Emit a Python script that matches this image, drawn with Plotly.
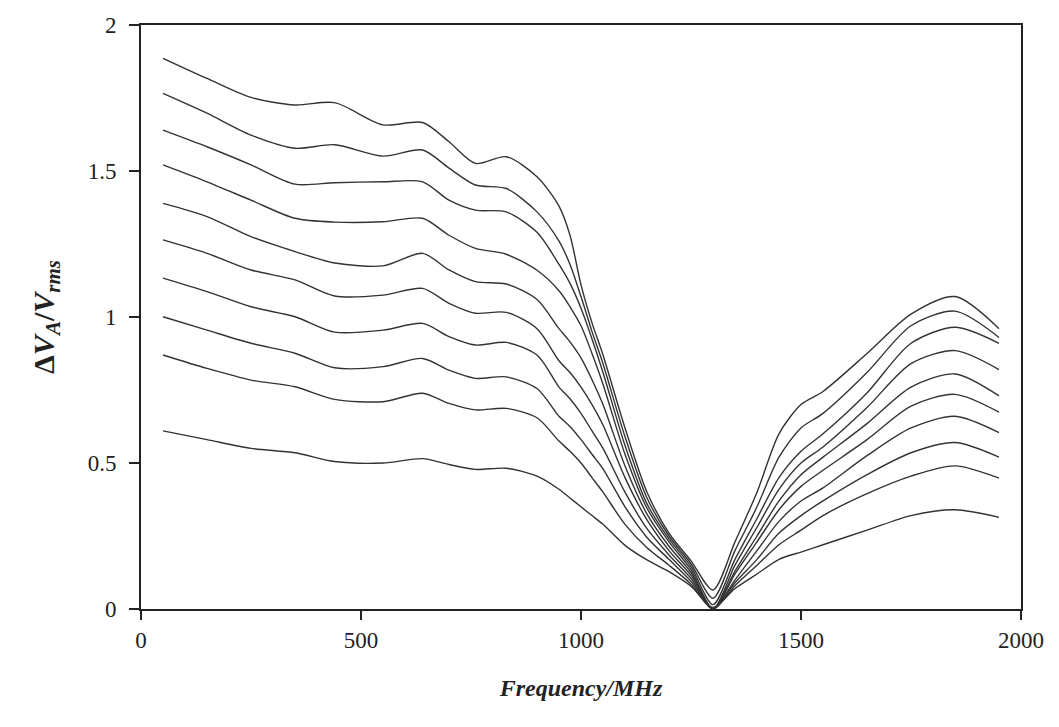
import plotly.graph_objects as go

# Frequency sample points (MHz)
freq = [50, 150, 250, 350, 440, 550, 640, 700, 760, 830, 900, 950, 975,
        1000, 1025, 1050, 1100, 1150, 1200, 1250, 1300, 1350, 1400, 1450, 1500,
        1550, 1650, 1750, 1850, 1950]

# Ten curves of dV_A / V_rms (top to bottom)
c1 = [1.886, 1.817, 1.752, 1.726, 1.734, 1.658, 1.666, 1.600, 1.526, 1.549, 1.480, 1.380, 1.280,
      1.110, 0.980, 0.870, 0.620, 0.400, 0.260, 0.165, 0.065, 0.230, 0.400, 0.600, 0.700,
      0.745, 0.875, 1.010, 1.070, 0.960]
c2 = [1.766, 1.698, 1.623, 1.578, 1.590, 1.551, 1.572, 1.510, 1.452, 1.440, 1.360, 1.260, 1.180,
      1.070, 0.950, 0.840, 0.590, 0.380, 0.250, 0.155, 0.037, 0.200, 0.350, 0.520, 0.620,
      0.670, 0.810, 0.970, 1.020, 0.930]
c3 = [1.640, 1.583, 1.521, 1.455, 1.460, 1.463, 1.463, 1.400, 1.366, 1.360, 1.290, 1.180, 1.115,
      1.030, 0.925, 0.810, 0.560, 0.360, 0.240, 0.145, 0.015, 0.170, 0.310, 0.450, 0.540,
      0.600, 0.740, 0.910, 0.965, 0.910]
c4 = [1.521, 1.463, 1.400, 1.338, 1.325, 1.326, 1.338, 1.280, 1.235, 1.215, 1.160, 1.090, 1.035,
      0.970, 0.875, 0.770, 0.530, 0.345, 0.230, 0.135, 0.000, 0.150, 0.280, 0.410, 0.500,
      0.555, 0.690, 0.840, 0.885, 0.820]
c5 = [1.389, 1.344, 1.275, 1.224, 1.185, 1.175, 1.218, 1.161, 1.121, 1.113, 1.060, 0.960, 0.915,
      0.860, 0.785, 0.700, 0.490, 0.325, 0.215, 0.125, 0.000, 0.130, 0.250, 0.370, 0.460,
      0.520, 0.635, 0.760, 0.805, 0.730]
c6 = [1.264, 1.218, 1.161, 1.127, 1.072, 1.075, 1.098, 1.047, 1.013, 1.016, 0.960, 0.850, 0.810,
      0.760, 0.700, 0.630, 0.450, 0.305, 0.200, 0.115, 0.000, 0.120, 0.230, 0.340, 0.420,
      0.475, 0.580, 0.695, 0.735, 0.674]
c7 = [1.133, 1.087, 1.035, 1.001, 0.948, 0.955, 0.978, 0.933, 0.904, 0.913, 0.870, 0.760, 0.720,
      0.670, 0.610, 0.550, 0.400, 0.275, 0.185, 0.105, 0.000, 0.100, 0.200, 0.300, 0.370,
      0.415, 0.525, 0.620, 0.660, 0.604]
c8 = [1.001, 0.955, 0.910, 0.876, 0.826, 0.830, 0.858, 0.818, 0.790, 0.795, 0.755, 0.660, 0.625,
      0.580, 0.530, 0.480, 0.350, 0.245, 0.170, 0.095, 0.000, 0.090, 0.170, 0.260, 0.320,
      0.370, 0.460, 0.535, 0.570, 0.520]
c9 = [0.870, 0.824, 0.784, 0.761, 0.718, 0.710, 0.739, 0.704, 0.682, 0.687, 0.655, 0.575, 0.540,
      0.500, 0.450, 0.400, 0.290, 0.210, 0.150, 0.085, 0.000, 0.080, 0.150, 0.220, 0.270,
      0.320, 0.395, 0.455, 0.490, 0.448]
c10 = [0.610, 0.580, 0.550, 0.535, 0.505, 0.500, 0.515, 0.495, 0.478, 0.482, 0.455, 0.410, 0.380,
       0.350, 0.320, 0.290, 0.218, 0.168, 0.128, 0.078, 0.005, 0.070, 0.120, 0.170, 0.195,
       0.220, 0.270, 0.320, 0.340, 0.314]

curves = [c1, c2, c3, c4, c5, c6, c7, c8, c9, c10]

x_ticks = [0, 500, 1000, 1500, 2000]
y_ticks = [0, 0.5, 1, 1.5, 2]
y_tick_labels = ["0", "0.5", "1", "1.5", "2"]

fig = go.Figure()
for c in curves:
    fig.add_trace(go.Scatter(
        x=freq, y=c, mode="lines",
        line=dict(color="#333333", width=1.4, shape="spline", smoothing=0.8),
        showlegend=False, hoverinfo="skip"))

font_family = "Liberation Serif, Times New Roman, serif"

fig.update_layout(
    width=1059, height=727,
    margin=dict(l=141, r=38, t=25, b=118),
    paper_bgcolor="white", plot_bgcolor="white",
    font=dict(family=font_family, size=23, color="#222222"),
    showlegend=False,
)
fig.update_xaxes(
    range=[0, 2000], tickvals=x_ticks, ticktext=[str(v) for v in x_ticks],
    showgrid=False, zeroline=False,
    showline=True, linecolor="#222222", linewidth=2, mirror=True,
    ticks="outside", ticklen=9, tickwidth=1.5, tickcolor="#222222",
    tickfont=dict(family=font_family, size=23),
    title=dict(text="<b><i>Frequency/MHz</i></b>", standoff=28,
               font=dict(family=font_family, size=24)),
)
fig.update_yaxes(
    range=[0, 2], tickvals=y_ticks, ticktext=y_tick_labels,
    showgrid=False, zeroline=True, zerolinecolor="#111111", zerolinewidth=3,
    showline=True, linecolor="#222222", linewidth=2, mirror=True,
    ticks="outside", ticklen=10, tickwidth=1.5, tickcolor="#222222",
    ticklabelstandoff=8,
    tickfont=dict(family=font_family, size=23),
    title=dict(text="<b>Δ<i>V</i><sub><i>A</i></sub>/<i>V</i><sub><i>rms</i></sub></b>",
               standoff=24, font=dict(family=font_family, size=30)),
)

fig.write_html("out.html")
